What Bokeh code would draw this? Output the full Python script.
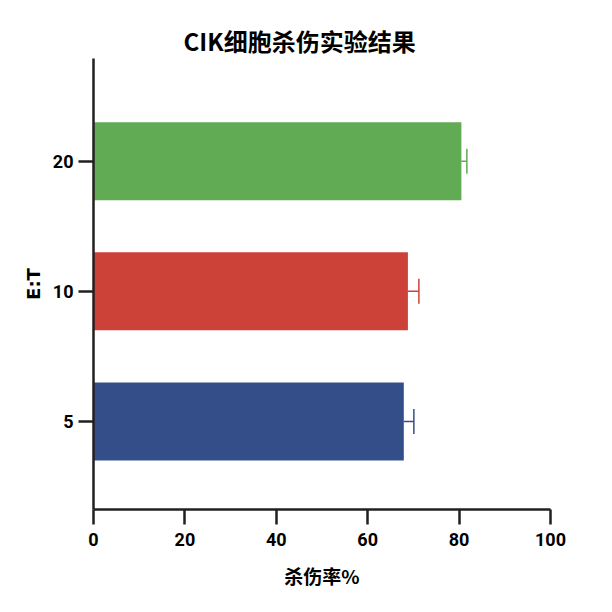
from bokeh.plotting import figure
from bokeh.models import (ColumnDataSource, FixedTicker, Range1d, Whisker, TeeHead, Title)
from bokeh.embed import file_html
from bokeh.resources import INLINE

categories = ["5", "10", "20"]
values = [67.9, 68.8, 80.5]
errors = [2.2, 2.4, 1.2]
colors = ["#344e8a", "#cc4239", "#62ab55"]
x_ticks = [0, 20, 40, 60, 80, 100]

positions = list(range(1, len(categories) + 1))
upper = [v + e for v, e in zip(values, errors)]

AX = "#231f20"
CJK = "Noto Sans CJK SC"
NUM = "Roboto"

p = figure(width=596, height=596, output_backend="svg", toolbar_location=None,
           x_range=Range1d(0, 100), y_range=Range1d(0.323, 3.79),
           min_border_left=93, min_border_right=46, min_border_top=58, min_border_bottom=87)
p.outline_line_color = None
p.xgrid.visible = False
p.ygrid.visible = False
p.background_fill_color = "white"

src = ColumnDataSource(dict(y=positions, right=values, color=colors, upper=upper))
p.hbar(y="y", left=0, right="right", height=0.6, fill_color="color", line_color=None, source=src)

for i in range(len(categories)):
    s = ColumnDataSource(dict(y=[positions[i]], lower=[values[i]], upper=[upper[i]]))
    w = Whisker(source=s, base="y", lower="lower", upper="upper", dimension="width",
                line_color=colors[i], line_width=1.5, lower_head=None,
                upper_head=TeeHead(size=25, line_color=colors[i], line_width=1.5))
    p.add_layout(w)

for ax in (p.xaxis[0], p.yaxis[0]):
    ax.axis_line_color = AX
    ax.axis_line_width = 2.5
    ax.major_tick_line_color = AX
    ax.major_tick_line_width = 2.5
    ax.major_tick_in = 0
    ax.major_tick_out = 15
    ax.minor_tick_line_color = None
    ax.major_label_text_font = NUM
    ax.major_label_text_font_style = "bold"
    ax.major_label_text_font_size = "18px"
    ax.major_label_text_color = "black"

p.xaxis.ticker = FixedTicker(ticks=x_ticks)
p.xaxis.major_label_standoff = 8
p.xaxis.axis_label = "杀伤率%"
p.xaxis.axis_label_text_font = CJK
p.xaxis.axis_label_text_font_style = "bold"
p.xaxis.axis_label_text_font_size = "19px"
p.xaxis.axis_label_text_color = "black"
p.xaxis.axis_label_standoff = 13

p.yaxis.ticker = FixedTicker(ticks=positions)
p.yaxis.major_label_overrides = {pos: c for pos, c in zip(positions, categories)}
p.yaxis.major_label_standoff = 5
p.yaxis.axis_label = "E:T"
p.yaxis.axis_label_text_font = "DejaVu Sans"
p.yaxis.axis_label_text_font_style = "bold"
p.yaxis.axis_label_text_font_size = "18px"
p.yaxis.axis_label_text_color = "black"
p.yaxis.axis_label_standoff = 6

t = Title(text="CIK细胞杀伤实验结果", align="left", offset=90, text_font=CJK,
          text_font_style="bold", text_font_size="24px", text_color="black", standoff=2)
p.add_layout(t, "above")

open("out.html", "w").write(file_html(p, INLINE))
